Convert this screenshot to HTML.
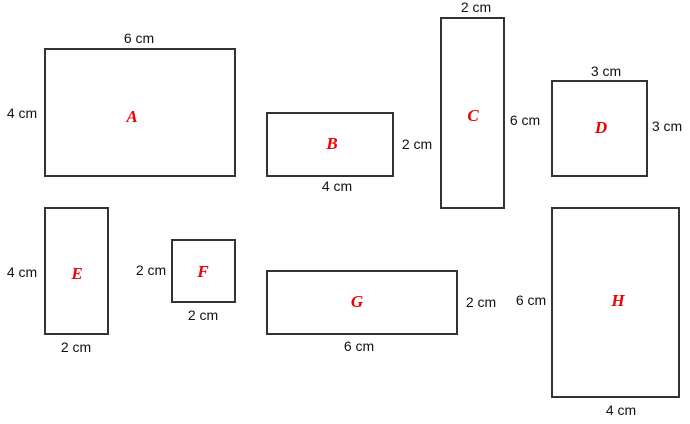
<!DOCTYPE html>
<html><head><style>
html,body{margin:0;padding:0;background:#fff;}
svg{display:block;}
.r{fill:none;stroke:#333;stroke-width:2;}
.t{font-family:"Liberation Sans",sans-serif;font-size:14px;fill:#111;}
.l{font-family:"Liberation Serif",serif;font-size:17px;font-style:italic;font-weight:bold;fill:#e00;}
</style></head><body>
<svg width="690" height="424" viewBox="0 0 690 424">
<rect class="r" x="45" y="49" width="190" height="127"/>
<text class="t" x="139" y="43" text-anchor="middle">6 cm</text>
<text class="t" x="22" y="118" text-anchor="middle">4 cm</text>
<text class="l" x="132" y="122" text-anchor="middle">A</text>

<rect class="r" x="267" y="113" width="126" height="63"/>
<text class="t" x="417" y="149" text-anchor="middle">2 cm</text>
<text class="t" x="337" y="191" text-anchor="middle">4 cm</text>
<text class="l" x="332" y="149" text-anchor="middle">B</text>

<rect class="r" x="441" y="18" width="63" height="190"/>
<text class="t" x="476" y="12" text-anchor="middle">2 cm</text>
<text class="t" x="525" y="125" text-anchor="middle">6 cm</text>
<text class="l" x="473" y="121" text-anchor="middle">C</text>

<rect class="r" x="552" y="81" width="95" height="95"/>
<text class="t" x="606" y="76" text-anchor="middle">3 cm</text>
<text class="t" x="667" y="131" text-anchor="middle">3 cm</text>
<text class="l" x="601" y="133" text-anchor="middle">D</text>

<rect class="r" x="45" y="208" width="63" height="126"/>
<text class="t" x="22" y="277" text-anchor="middle">4 cm</text>
<text class="t" x="76" y="352" text-anchor="middle">2 cm</text>
<text class="l" x="77" y="279" text-anchor="middle">E</text>

<rect class="r" x="172" y="240" width="63" height="62"/>
<text class="t" x="151" y="275" text-anchor="middle">2 cm</text>
<text class="t" x="203" y="320" text-anchor="middle">2 cm</text>
<text class="l" x="203" y="277" text-anchor="middle">F</text>

<rect class="r" x="267" y="271" width="190" height="63"/>
<text class="t" x="481" y="307" text-anchor="middle">2 cm</text>
<text class="t" x="359" y="351" text-anchor="middle">6 cm</text>
<text class="l" x="357" y="307" text-anchor="middle">G</text>

<rect class="r" x="552" y="208" width="127" height="189"/>
<text class="t" x="531" y="305" text-anchor="middle">6 cm</text>
<text class="t" x="621" y="415" text-anchor="middle">4 cm</text>
<text class="l" x="618" y="306" text-anchor="middle">H</text>
</svg>
</body></html>
